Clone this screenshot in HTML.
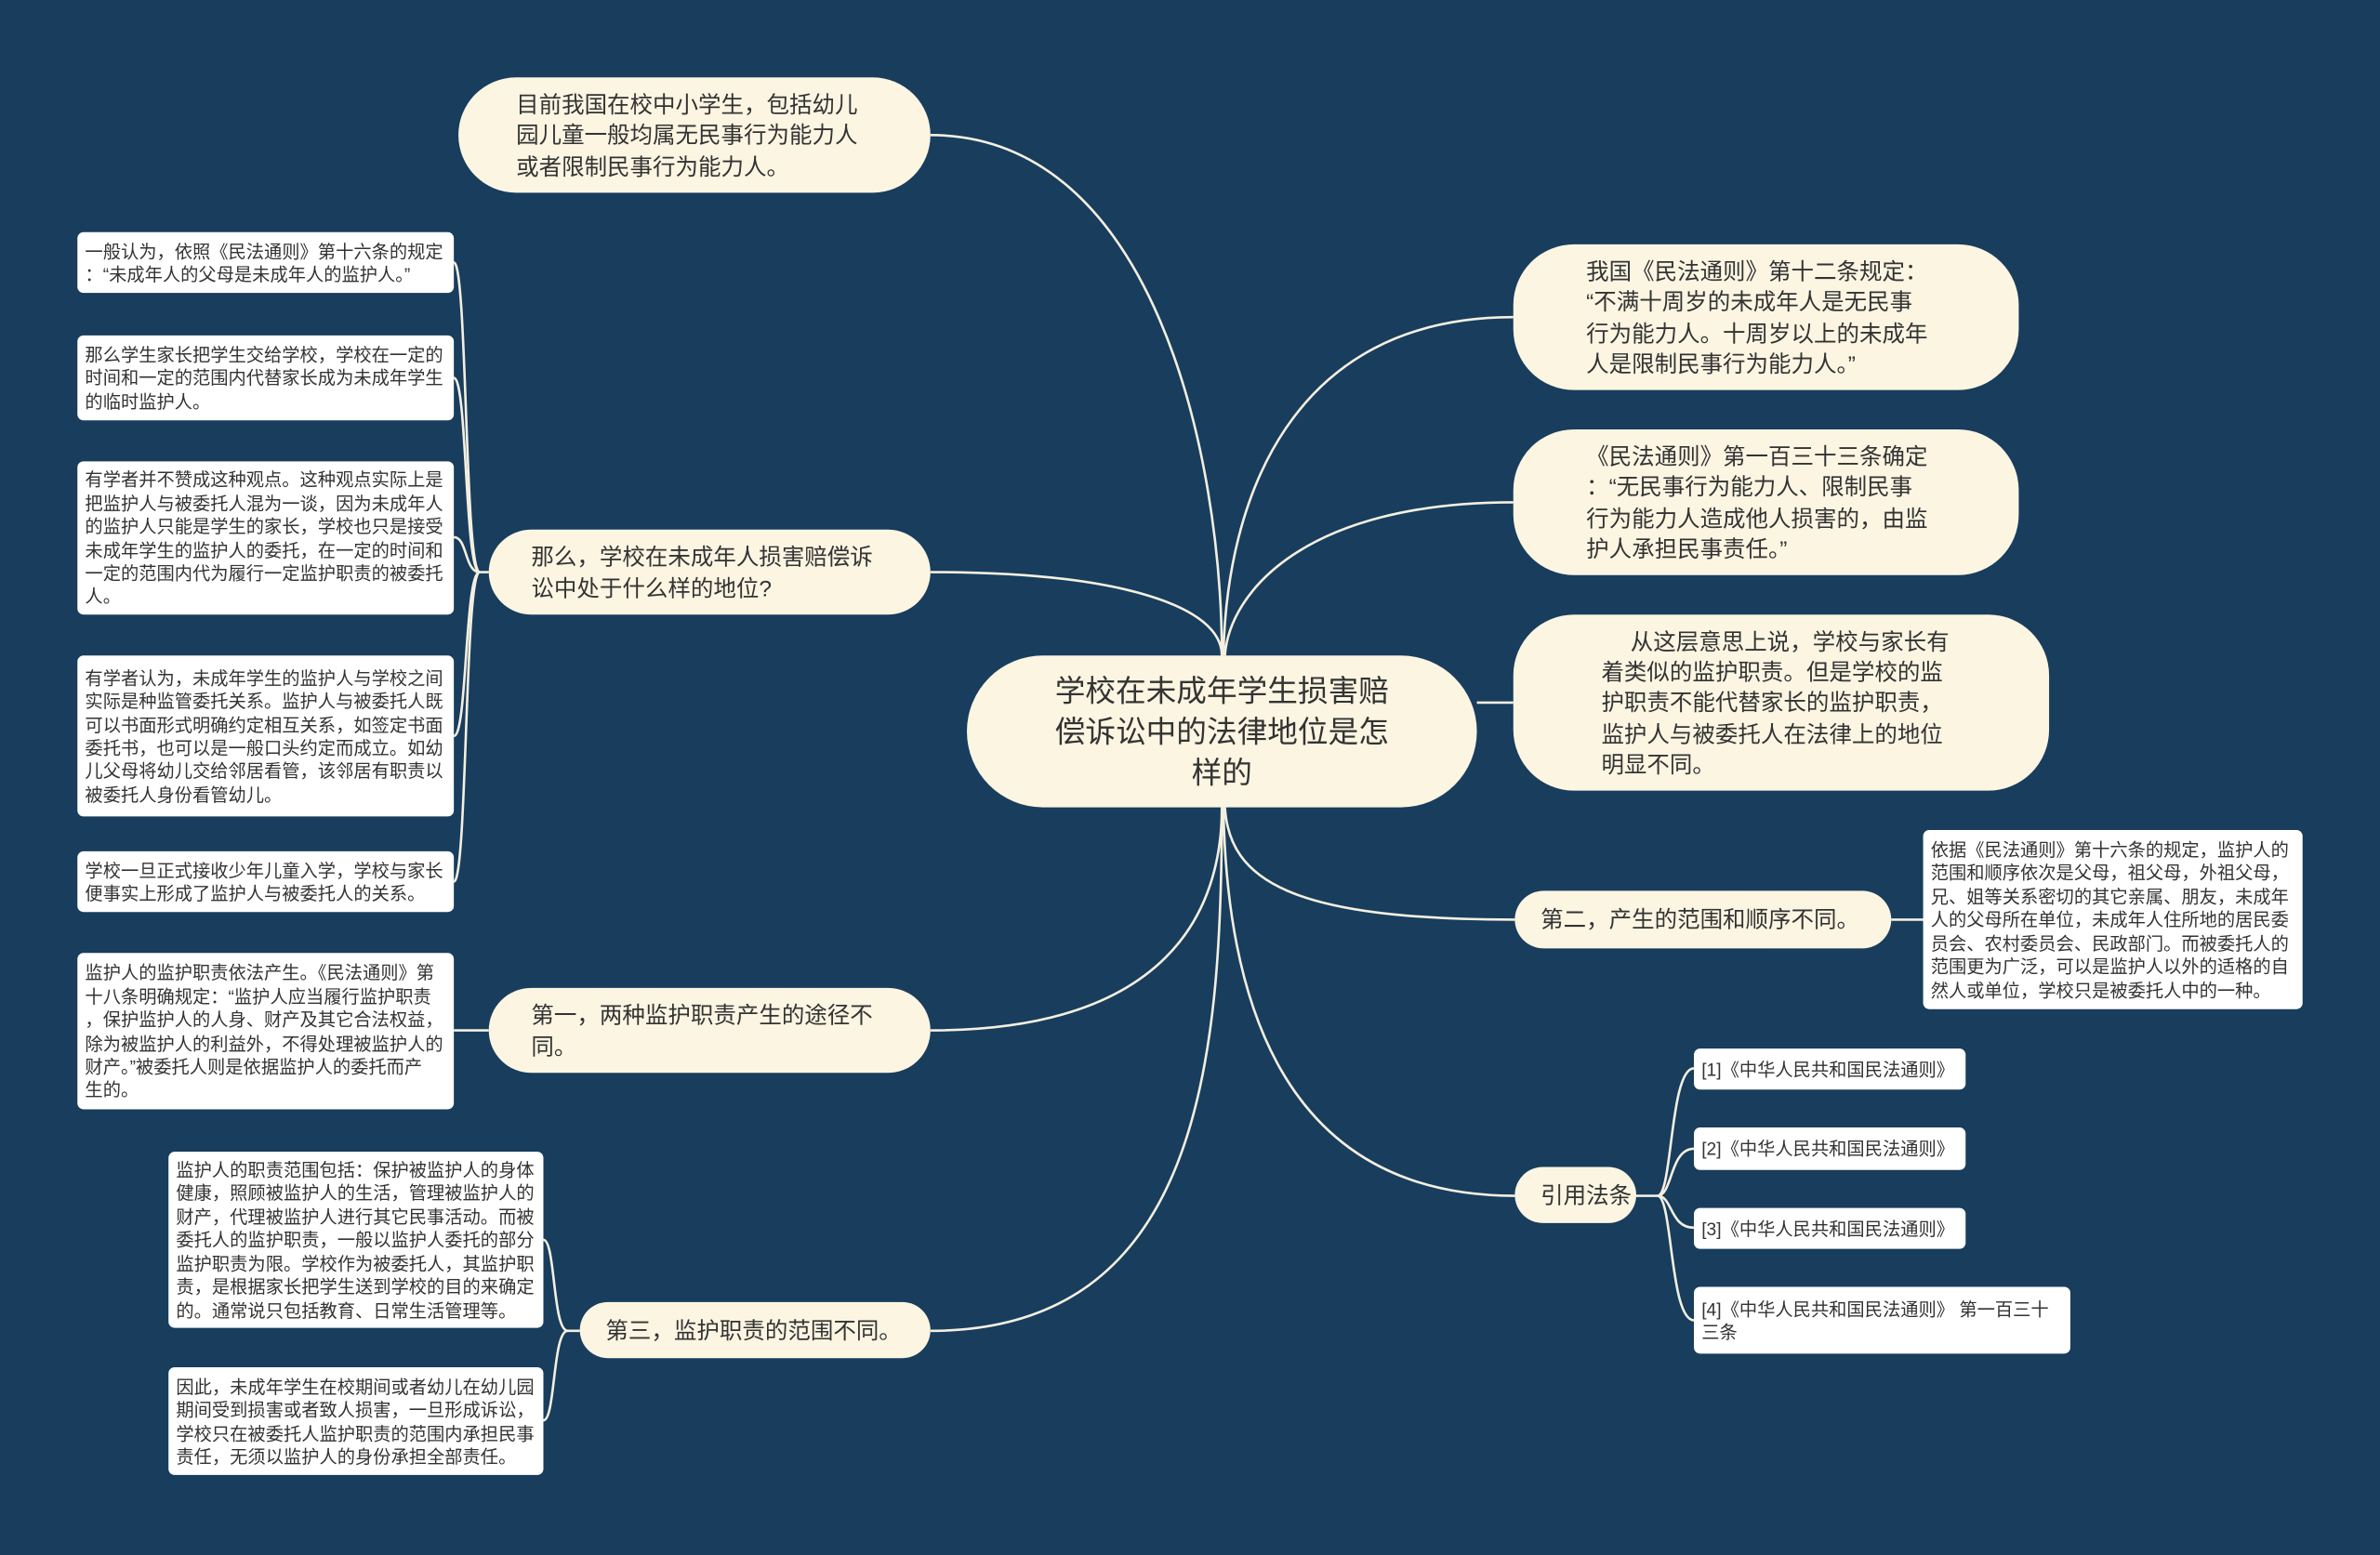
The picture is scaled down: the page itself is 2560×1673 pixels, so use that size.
<!DOCTYPE html>
<html><head><meta charset="utf-8">
<style>
html,body{margin:0;padding:0;background:#183d5d;}
body{width:2560px;height:1673px;overflow:hidden;position:relative;}
#c{position:absolute;left:0;top:0;width:1568px;height:1025px;transform:scale(1.63265);transform-origin:0 0;font-family:"Liberation Sans","Noto Sans CJK SC",sans-serif;color:#333;}
svg{position:absolute;left:0;top:0;}
.n{position:absolute;box-sizing:border-box;background:#fbf5e2;display:flex;flex-direction:column;justify-content:center;white-space:nowrap;padding-top:3px;}
.b{font-size:15px;line-height:20.3px;border-radius:40px;}
.l{background:#fff;border-radius:4px;font-size:11.8px;line-height:15.4px;padding-left:5px;padding-top:2px;}
</style></head><body>
<div id="c">
<svg width="1568" height="1025" viewBox="0 0 1568 1025" fill="none" stroke="#f4efe0" stroke-width="1.6">
<path d="M613,89 C760,89 805,300 805,432"/>
<path d="M613,377 C740,377 805,400 805,432"/>
<path d="M613,679 C770,679 805,600 805,532"/>
<path d="M613,877 C790,877 805,700 805,532"/>
<path d="M997,209 C850,209 808,330 806,432"/>
<path d="M997,331 C860,331 810,390 807,432"/>
<path d="M973,463 L997,463"/>
<path d="M998,606 C850,606 810,580 807,532"/>
<path d="M998,788 C840,788 808,650 806,532"/>
<path d="M322,377 L316,377 C306,377 308,173 299,173"/>
<path d="M316,377 C306,377 308,249 299,249"/>
<path d="M316,377 C306,377 308,354 299,354"/>
<path d="M316,377 C306,377 308,485 299,485"/>
<path d="M316,377 C306,377 308,581 299,581"/>
<path d="M322,679 L299,679"/>
<path d="M382,877 L374,877 C364,877 366,817 358,817"/>
<path d="M374,877 C364,877 366,936 358,936"/>
<path d="M1246,606 L1267,606"/>
<path d="M1078,788 L1092,788 C1102,788 1100,704 1116,704"/>
<path d="M1092,788 C1102,788 1100,757 1116,757"/>
<path d="M1092,788 C1102,788 1100,809 1116,809"/>
<path d="M1092,788 C1102,788 1100,870 1116,870"/>
</svg>

<div class="n" style="left:637px;top:432px;width:336px;height:100px;border-radius:50px;font-size:20px;line-height:27px;text-align:center;align-items:center;">学校在未成年学生损害赔<br>偿诉讼中的法律地位是怎<br>样的</div>

<div class="n b" style="left:302px;top:51px;width:311px;height:76px;padding-left:38px;">目前我国在校中小学生，包括幼儿<br>园儿童一般均属无民事行为能力人<br>或者限制民事行为能力人。</div>
<div class="n b" style="left:322px;top:349px;width:291px;height:56px;padding-left:28px;">那么，学校在未成年人损害赔偿诉<br>讼中处于什么样的地位?</div>
<div class="n b" style="left:322px;top:651px;width:291px;height:56px;padding-left:28px;">第一，两种监护职责产生的途径不<br>同。</div>
<div class="n b" style="left:382px;top:858px;width:231px;height:37px;padding-left:17px;">第三，监护职责的范围不同。</div>

<div class="n b" style="left:997px;top:161px;width:333px;height:96px;padding-left:48px;">我国《民法通则》第十二条规定：<br>“不满十周岁的未成年人是无民事<br>行为能力人。十周岁以上的未成年<br>人是限制民事行为能力人。”</div>
<div class="n b" style="left:997px;top:283px;width:333px;height:96px;padding-left:48px;">《民法通则》第一百三十三条确定<br>：“无民事行为能力人、限制民事<br>行为能力人造成他人损害的，由监<br>护人承担民事责任。”</div>
<div class="n b" style="left:997px;top:405px;width:353px;height:116px;padding-left:58px;">　 从这层意思上说，学校与家长有<br>着类似的监护职责。但是学校的监<br>护职责不能代替家长的监护职责，<br>监护人与被委托人在法律上的地位<br>明显不同。</div>
<div class="n b" style="left:998px;top:587px;width:248px;height:38px;padding-left:17px;">第二，产生的范围和顺序不同。</div>
<div class="n b" style="left:998px;top:769px;width:80px;height:37px;padding-left:17px;">引用法条</div>

<div class="n l" style="left:51px;top:153px;width:248px;height:40px;">一般认为，依照《民法通则》第十六条的规定<br>：“未成年人的父母是未成年人的监护人。”</div>
<div class="n l" style="left:51px;top:221px;width:248px;height:56px;">那么学生家长把学生交给学校，学校在一定的<br>时间和一定的范围内代替家长成为未成年学生<br>的临时监护人。</div>
<div class="n l" style="left:51px;top:304px;width:248px;height:101px;">有学者并不赞成这种观点。这种观点实际上是<br>把监护人与被委托人混为一谈，因为未成年人<br>的监护人只能是学生的家长，学校也只是接受<br>未成年学生的监护人的委托，在一定的时间和<br>一定的范围内代为履行一定监护职责的被委托<br>人。</div>
<div class="n l" style="left:51px;top:432px;width:248px;height:106px;">有学者认为，未成年学生的监护人与学校之间<br>实际是种监管委托关系。监护人与被委托人既<br>可以书面形式明确约定相互关系，如签定书面<br>委托书，也可以是一般口头约定而成立。如幼<br>儿父母将幼儿交给邻居看管，该邻居有职责以<br>被委托人身份看管幼儿。</div>
<div class="n l" style="left:51px;top:561px;width:248px;height:40px;">学校一旦正式接收少年儿童入学，学校与家长<br>便事实上形成了监护人与被委托人的关系。</div>
<div class="n l" style="left:51px;top:628px;width:248px;height:103px;">监护人的监护职责依法产生。《民法通则》第<br>十八条明确规定：“监护人应当履行监护职责<br>，保护监护人的人身、财产及其它合法权益，<br>除为被监护人的利益外，不得处理被监护人的<br>财产。”被委托人则是依据监护人的委托而产<br>生的。</div>
<div class="n l" style="left:111px;top:759px;width:247px;height:116px;">监护人的职责范围包括：保护被监护人的身体<br>健康，照顾被监护人的生活，管理被监护人的<br>财产，代理被监护人进行其它民事活动。而被<br>委托人的监护职责，一般以监护人委托的部分<br>监护职责为限。学校作为被委托人，其监护职<br>责，是根据家长把学生送到学校的目的来确定<br>的。通常说只包括教育、日常生活管理等。</div>
<div class="n l" style="left:111px;top:901px;width:247px;height:71px;">因此，未成年学生在校期间或者幼儿在幼儿园<br>期间受到损害或者致人损害，一旦形成诉讼，<br>学校只在被委托人监护职责的范围内承担民事<br>责任，无须以监护人的身份承担全部责任。</div>

<div class="n l" style="left:1267px;top:547px;width:250px;height:118px;">依据《民法通则》第十六条的规定，监护人的<br>范围和顺序依次是父母，祖父母，外祖父母，<br>兄、姐等关系密切的其它亲属、朋友，未成年<br>人的父母所在单位，未成年人住所地的居民委<br>员会、农村委员会、民政部门。而被委托人的<br>范围更为广泛，可以是监护人以外的适格的自<br>然人或单位，学校只是被委托人中的一种。</div>
<div class="n l" style="left:1116px;top:691px;width:179px;height:27px;">[1]《中华人民共和国民法通则》</div>
<div class="n l" style="left:1116px;top:743px;width:179px;height:28px;">[2]《中华人民共和国民法通则》</div>
<div class="n l" style="left:1116px;top:796px;width:179px;height:27px;">[3]《中华人民共和国民法通则》</div>
<div class="n l" style="left:1116px;top:848px;width:248px;height:44px;">[4]《中华人民共和国民法通则》 第一百三十<br>三条</div>
</div>
</body></html>
